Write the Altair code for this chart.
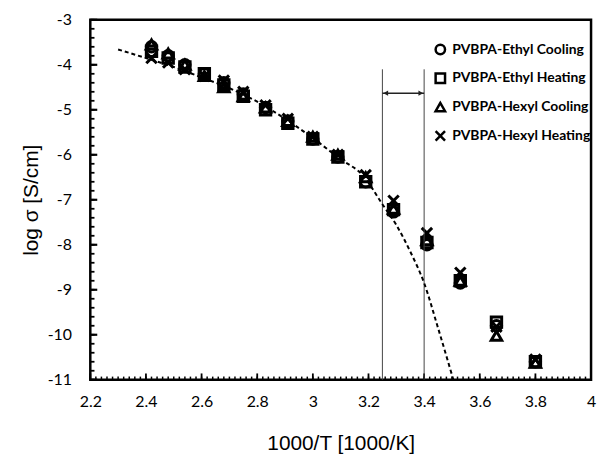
import altair as alt
import pandas as pd

# ---- data ----
inv_T = [2.42, 2.48, 2.54, 2.61, 2.68, 2.75, 2.83, 2.91, 3.00, 3.09, 3.19, 3.29, 3.41, 3.53, 3.66, 3.80]
ethyl_cooling = [-3.60, -3.80, -4.00, -4.20, -4.40, -4.65, -4.95, -5.25, -5.65, -6.05, -6.60, -7.27, -8.00, -8.85, -9.80, -10.60]
ethyl_heating = [-3.70, -3.85, -4.05, -4.20, -4.45, -4.70, -5.00, -5.30, -5.65, -6.05, -6.60, -7.22, -7.95, -8.80, -9.72, -10.60]
hexyl_cooling = [-3.55, -3.75, -4.00, -4.25, -4.50, -4.70, -4.95, -5.25, -5.60, -6.00, -6.50, -7.20, -7.90, -8.80, -10.02, -10.62]
hexyl_heating = [-3.85, -3.95, -4.10, -4.25, -4.35, -4.60, -4.90, -5.20, -5.60, -6.00, -6.45, -7.02, -7.74, -8.62, -9.82, -10.55]
series_names = ["PVBPA-Ethyl Cooling", "PVBPA-Ethyl Heating", "PVBPA-Hexyl Cooling", "PVBPA-Hexyl Heating"]

fit_x = [2.30, 2.40, 2.50, 2.60, 2.70, 2.80, 2.90, 3.00, 3.10, 3.18, 3.25, 3.30, 3.35, 3.40, 3.45, 3.505]
fit_y = [-3.66, -3.85, -4.05, -4.28, -4.52, -4.82, -5.20, -5.63, -6.10, -6.46, -7.10, -7.56, -8.15, -8.85, -9.85, -11.0]

vline_x = [3.25, 3.40]
vline_top = -4.1
arrow_y = -4.63

# axis ticks (labels at majors)
x_major = [2.2, 2.4, 2.6, 2.8, 3.0, 3.2, 3.4, 3.6, 3.8, 4.0]
x_minor = [round(2.2 + 0.02 * i, 2) for i in range(91)]
y_major = [-11, -10, -9, -8, -7, -6, -5, -4, -3]
y_minor = [round(-11 + 0.2 * i, 1) for i in range(41)]

rows = []
for name, vals in zip(series_names, [ethyl_cooling, ethyl_heating, hexyl_cooling, hexyl_heating]):
    for xv, yv in zip(inv_T, vals):
        rows.append({"x": xv, "y": yv, "series": name})
pts = pd.DataFrame(rows)
fit = pd.DataFrame({"x": fit_x, "y": fit_y})
vl = pd.DataFrame({"x": vline_x, "y": [vline_top] * 2, "y2": [-11.0] * 2})
arr = pd.DataFrame({"x": [vline_x[0]], "x2": [vline_x[1]], "y": [arrow_y]})
heads = pd.DataFrame({"x": [vline_x[0] + 0.012, vline_x[1] - 0.012], "y": [arrow_y] * 2,
                      "dir": ["left", "right"]})

W, H = 505, 363
xs = alt.Scale(domain=[2.2, 4.0], nice=False, zero=False)
ys = alt.Scale(domain=[-11, -3], nice=False, zero=False)

x_axis = alt.Axis(
    values=x_major, tickCount=50, title="1000/T [1000/K]", ticks=False, tickSize=0, domain=False, grid=False,
    labelExpr="'' + datum.value",
    labelFont="Lato", labelFontSize=16, labelColor="black", labelPadding=14, labelFlush=False,
    labelOverlap=False,
    titleFont="Liberation Sans", titleFontSize=21, titleFontWeight="normal", titleColor="black", titlePadding=23,
)
y_axis = alt.Axis(
    values=y_major, tickCount=50, title="log σ [S/cm]", ticks=False, tickSize=0, domain=False, grid=False,
    labelExpr="'' + datum.value",
    labelFont="Lato", labelFontSize=16, labelColor="black", labelPadding=19, labelFlush=False,
    labelOverlap=False,
    titleFont="Liberation Sans", titleFontSize=21, titleFontWeight="normal", titleColor="black", titlePadding=6,
)

xshape = "M-1,-1L1,1M-1,1L1,-1"

points = alt.Chart(pts).mark_point(filled=False, size=110, strokeWidth=3, color="black", opacity=1).encode(
    x=alt.X("x:Q", scale=xs, axis=x_axis),
    y=alt.Y("y:Q", scale=ys, axis=y_axis),
    shape=alt.Shape("series:N", scale=alt.Scale(domain=series_names,
                                                 range=["circle", "square", "triangle-up", xshape]),
                    legend=alt.Legend(title=None, orient="none", legendX=346, legendY=23,
                                      labelFont="Lato", labelFontSize=14, labelFontWeight="bold",
                                      labelColor="black", symbolSize=90, symbolStrokeWidth=2.5,
                                      symbolStrokeColor="black", symbolFillColor="transparent",
                                      symbolType="circle", rowPadding=9, labelOffset=5)),
)

# inward tick marks along the frame, placed through the scales
xt_minor = alt.Chart(pd.DataFrame({"v": x_minor, "t": [-10.93] * len(x_minor)})).mark_rule(color="black", strokeWidth=1.5).encode(
    x=alt.X("v:Q", scale=xs), y=alt.Y("t:Q", scale=ys), y2=alt.Y2(datum=-11))
xt_major = alt.Chart(pd.DataFrame({"v": x_major, "t": [-10.86] * len(x_major)})).mark_rule(color="black", strokeWidth=1.8).encode(
    x=alt.X("v:Q", scale=xs), y=alt.Y("t:Q", scale=ys), y2=alt.Y2(datum=-11))
yt_minor = alt.Chart(pd.DataFrame({"v": y_minor, "t": [2.215] * len(y_minor)})).mark_rule(color="black", strokeWidth=1.8).encode(
    y=alt.Y("v:Q", scale=ys), x=alt.X("t:Q", scale=xs), x2=alt.X2(datum=2.2))
yt_major = alt.Chart(pd.DataFrame({"v": y_major, "t": [2.225] * len(y_major)})).mark_rule(color="black", strokeWidth=2.2).encode(
    y=alt.Y("v:Q", scale=ys), x=alt.X("t:Q", scale=xs), x2=alt.X2(datum=2.2))

frame = alt.Chart(pd.DataFrame({"x": [2.2], "x2": [4.0], "y": [-11.0], "y2": [-3.0]})).mark_rect(
    filled=False, stroke="black", strokeWidth=2.5, fill=None).encode(
    x=alt.X("x:Q", scale=xs), x2="x2:Q", y=alt.Y("y:Q", scale=ys), y2="y2:Q")

curve = alt.Chart(fit).mark_line(color="black", strokeWidth=2, strokeDash=[4, 3], interpolate="monotone", clip=True).encode(
    x=alt.X("x:Q", scale=xs), y=alt.Y("y:Q", scale=ys))

vlines = alt.Chart(vl).mark_rule(color="#444444", strokeWidth=1).encode(
    x=alt.X("x:Q", scale=xs), y=alt.Y("y:Q", scale=ys), y2="y2:Q")

arrow = alt.Chart(arr).mark_rule(color="#222222", strokeWidth=1.5).encode(
    x=alt.X("x:Q", scale=xs), x2="x2:Q", y=alt.Y("y:Q", scale=ys))

heads_l = alt.Chart(heads[heads.dir == "left"]).mark_point(shape="triangle-left", filled=True, size=30, color="#222222", opacity=1).encode(
    x=alt.X("x:Q", scale=xs), y=alt.Y("y:Q", scale=ys))
heads_r = alt.Chart(heads[heads.dir == "right"]).mark_point(shape="triangle-right", filled=True, size=30, color="#222222", opacity=1).encode(
    x=alt.X("x:Q", scale=xs), y=alt.Y("y:Q", scale=ys))

chart = alt.layer(points, xt_minor, xt_major, yt_minor, yt_major, frame, vlines, arrow, heads_l, heads_r, curve).properties(
    width=W, height=H,
    padding={"left": 83, "top": 10, "right": 6, "bottom": 76},
    autosize=alt.AutoSizeParams(type="none"),
    background="white",
).configure_view(stroke=None)

chart.save("out.html", embed_options={"renderer": "svg", "actions": False})
